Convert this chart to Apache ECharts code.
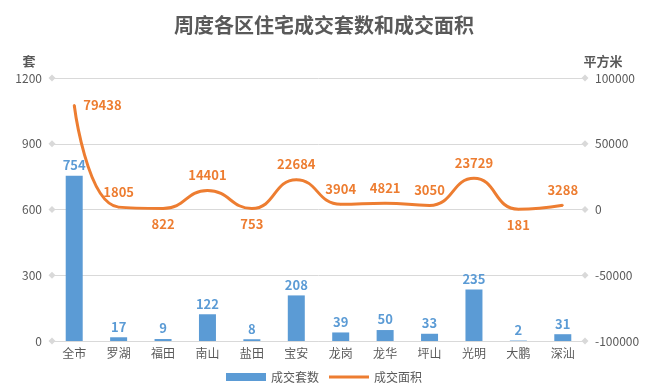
<!DOCTYPE html>
<html><head><meta charset="utf-8">
<script src="https://cdn.jsdelivr.net/npm/echarts@6/dist/echarts.min.js"></script>
<style>html,body{margin:0;padding:0;background:#fff}#c{width:648px;height:390px}</style>
</head><body><div id="c"></div>
<script>
const categories = ['全市','罗湖','福田','南山','盐田','宝安','龙岗','龙华','坪山','光明','大鹏','深汕'];
const units = [754,17,9,122,8,208,39,50,33,235,2,31];
const area = [79438,1805,822,14401,753,22684,3904,4821,3050,23729,181,3288];
const areaLabelPos = ['right','top','bottom','top','bottom','top','top','top','top','top','bottom','top'];
const leftTicks = [0,300,600,900,1200];

const font = '"Noto Sans CJK SC","Microsoft YaHei",sans-serif';
const chart = echarts.init(document.getElementById('c'));
chart.setOption({
  textStyle:{fontFamily:font},
  title:{text:'周度各区住宅成交套数和成交面积',left:'center',top:10,textStyle:{fontFamily:font,fontSize:20,fontWeight:'bold',color:'#595959'}},
  legend:{bottom:2,left:'center',itemWidth:40,itemHeight:8,itemGap:10,textStyle:{color:'#595959',fontSize:12},
    data:[{name:'成交套数',icon:'rect'},{name:'成交面积',icon:'path://M0,0 L40,0 L40,3 L0,3 Z',itemStyle:{color:'#ED7D31',opacity:1}}]},
  grid:{left:52,right:63,top:78,bottom:49},
  xAxis:{type:'category',data:categories,axisTick:{show:false},axisLine:{lineStyle:{color:'#d9d9d9'}},axisLabel:{color:'#595959',fontSize:12,margin:6}},
  yAxis:[
    {type:'value',min:0,max:1200,interval:300,name:'套',nameGap:10,nameTextStyle:{color:'#595959',fontSize:13,fontWeight:'bold',padding:[0,46,0,0]},
     axisLabel:{color:'#595959',fontSize:12,margin:10,formatter:v=>String(v)},splitLine:{show:false},axisLine:{show:false},axisTick:{show:false}},
    {type:'value',min:-100000,max:100000,interval:50000,name:'平方米',nameGap:10,nameTextStyle:{color:'#595959',fontSize:13,fontWeight:'bold',padding:[0,0,0,36]},
     axisLabel:{color:'#595959',fontSize:12,margin:10,formatter:v=>String(v)},splitLine:{show:false},axisLine:{show:false},axisTick:{show:false}}
  ],
  series:[
    {name:'成交套数',type:'bar',data:units,barWidth:17,itemStyle:{color:'#5B9BD5'},
     label:{show:true,position:'top',color:'#5B9BD5',fontWeight:'bold',fontSize:13,distance:4},
     markLine:{silent:true,symbol:['diamond','diamond'],symbolSize:7,label:{show:false},
       lineStyle:{color:'#d9d9d9',type:'solid',width:1},itemStyle:{color:'#d9d9d9'},
       data:leftTicks.map(v=>({yAxis:v})),z:0}},
    {name:'成交面积',type:'line',yAxisIndex:1,data:area.map((v,i)=>({value:v,label:{position:areaLabelPos[i]}})),smooth:0.5,
     symbol:'circle',symbolSize:2,showSymbol:true,lineStyle:{color:'#ED7D31',width:3},itemStyle:{color:'#ED7D31',borderWidth:0},
     label:{show:true,color:'#ED7D31',fontWeight:'bold',fontSize:13,distance:8}}
  ]
});
</script></body></html>
